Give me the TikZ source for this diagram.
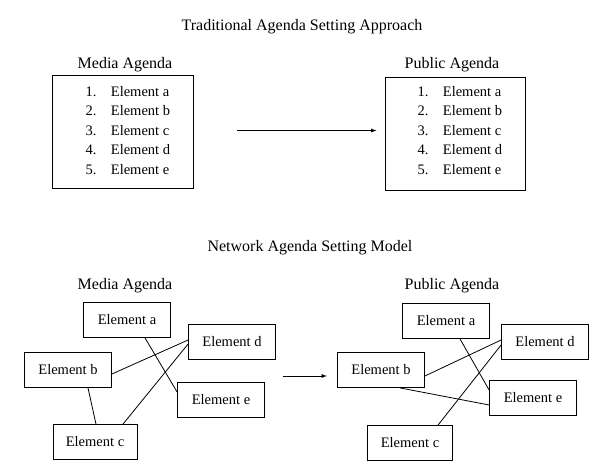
\documentclass[tikz,border=0pt]{standalone}
\usepackage{fontspec}
\setmainfont{Liberation Serif}
\usetikzlibrary{positioning}
\tikzset{
  box/.style={draw,thick,inner sep=0pt},
  elem/.style={draw,thick,minimum width=87pt,minimum height=35pt,inner sep=1pt},
  head/.style={font=\fontsize{16}{18}\selectfont},
  tie/.style={thick},
  lead/.style={thick,-latex}
}
\begin{document}
\begin{tikzpicture}[x=1pt,y=-1pt,font=\fontsize{14.5}{16}\selectfont]
  \useasboundingbox (0,0) rectangle (615,473);
  % traditional approach
  \node[head] (t1) at (302,27) {Traditional Agenda Setting Approach};
  \node[head] (mh) at (125,65) {Media Agenda};
  \node[head] (ph) at (452,65) {Public Agenda};
  \node[box,minimum width=141pt,minimum height=113pt] (ml) at (122.5,131.5) {};
  \node[box,minimum width=140pt,minimum height=113pt] (pl) at (455,133.5) {};
  \foreach \n/\l [count=\i] in {1/a,2/b,3/c,4/d,5/e}{
    \node[anchor=west] at (82,72+19.5*\i) {\n.\quad Element \l};
    \node[anchor=west] at (414,72+19.5*\i) {\n.\quad Element \l};
  }
  \draw[lead] (ml.east) ++(44,-1) coordinate (s1) -- ++(139,0) coordinate (e1);
  % network model
  \node[head] (t2) at (310,248) {Network Agenda Setting Model};
  \node[head] (mh2) at (125,286) {Media Agenda};
  \node[head] (ph2) at (452,286) {Public Agenda};
  \node[elem] (ma) at (127,320) {Element a};
  \node[elem] (md) at (232,342) {Element d};
  \node[elem] (mb) at (68,370) {Element b};
  \node[elem] (me) at (221,400) {Element e};
  \node[elem,minimum width=84pt] (mc) at (95,442) {Element c};
  \node[elem] (pa) at (446,321) {Element a};
  \node[elem] (pd) at (545,342) {Element d};
  \node[elem] (pb) at (381,370) {Element b};
  \node[elem] (pe) at (533,398) {Element e};
  \node[elem,minimum width=85pt] (pc) at (410,443) {Element c};
  \draw[tie] ([xshift=18pt]ma.south) -- ([yshift=8pt]me.west);
  \draw[tie] ([yshift=-4pt]mb.east) -- ([yshift=2pt]md.west);
  \draw[tie] ([xshift=20pt]mb.south) -- ([xshift=1pt]mc.north);
  \draw[tie] ([xshift=28pt]mc.north) -- ([yshift=-2pt]md.west);
  \draw[tie] ([xshift=14pt]pa.south) -- ([yshift=8pt]pe.west);
  \draw[tie] ([yshift=-6pt]pb.east) -- ([yshift=2pt]pd.west);
  \draw[tie] ([xshift=19pt]pb.south) -- ([yshift=-7pt]pe.west);
  \draw[tie] ([xshift=28pt]pc.north) -- ([yshift=-3pt]pd.west);
  \draw[lead] (mb.east) ++(171,6) coordinate (s2) -- ++(44,0) coordinate (e2);
\end{tikzpicture}
\end{document}
